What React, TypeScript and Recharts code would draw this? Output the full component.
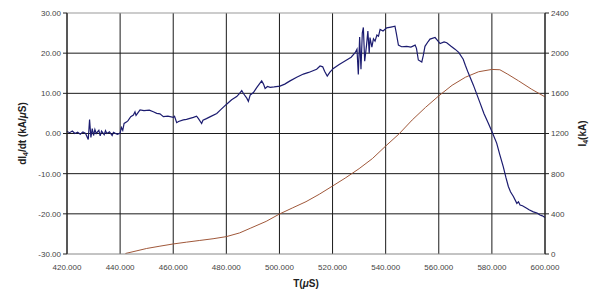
import React from "react";
import { LineChart, Line, XAxis, YAxis, CartesianGrid, Label, ReferenceLine } from "recharts";

const xTicks = [420, 440, 460, 480, 500, 520, 540, 560, 580, 600];
const leftTicks = [-30, -20, -10, 0, 10, 20, 30];
const rightTicks = [0, 400, 800, 1200, 1600, 2000, 2400];

const dIdtT = [
  420, 421, 422, 423, 424, 425, 426, 427, 428, 428.5, 429, 429.5, 430, 430.5, 431, 432, 432.5, 433, 434, 434.5,
  435, 436, 437, 437.5, 438, 439, 440, 440.5, 441, 441.5, 442.5, 443, 444, 445, 445.6, 446, 447.5, 449, 451, 452.5,
  453.8, 455, 456.3, 458, 460, 460.5, 461.3, 462, 463.8, 465, 467.6, 468.8, 469.5, 470.7, 471.2, 472.5, 474, 476.4,
  478, 480.1, 482, 483.9, 485, 485.8, 486.5, 487.7, 488.3, 489, 490.2, 491.5, 493.3, 494, 494.6, 495.5, 496.5, 498,
  500.2, 502, 504, 506.5, 509, 511, 514, 515.3, 516.3, 517, 518, 519, 520.3, 522.5, 525.3, 527, 528.5, 529.2, 529.7,
  530.2, 530.7, 531.2, 531.6, 532.1, 532.8, 533.3, 533.8, 534.1, 534.8, 535.4, 536, 536.7, 537.3, 537.9, 539, 540.4,
  542, 543.5, 544, 544.8, 546, 547.9, 549.5, 551.1, 551.6, 552.3, 553.6, 554.2, 554.8, 556, 556.7, 558.6, 559.5,
  560.5, 562, 563, 564.5, 566.1, 567.5, 569.2, 570, 571.1, 573, 575.6, 577, 578.7, 580, 581.8, 583, 584.3, 585.3,
  586.2, 587, 588.1, 589.4, 590, 590.6, 591.5, 593.1, 594, 595.6, 597, 598.1, 599, 600,
];
const dIdtV = [
  0.5, 0.2, 0.6, 0.0, 0.3, -0.2, 0.4, 0.0, -1.5, 3.5, -1.0, 1.2, -0.5, 1.0, 0.0, 0.8, -0.6, 0.6, -0.3, 0.7,
  0.0, 0.4, -0.5, 0.3, 0.1, -0.2, 0.1, 1.5, 0.8, 2.5, 2.9, 3.2, 4.2, 4.6, 5.4, 4.5, 5.9, 5.7, 5.8, 5.4,
  5.0, 4.9, 4.2, 4.3, 4.0, 4.3, 2.7, 3.0, 3.4, 3.5, 4.0, 4.3, 3.7, 2.5, 3.3, 3.7, 4.2, 5.0,
  6.0, 7.3, 8.4, 9.2, 10.0, 10.7, 9.9, 8.8, 8.0, 9.6, 10.2, 11.5, 13.1, 12.3, 11.2, 11.7, 11.5, 11.6,
  11.8, 12.3, 13.1, 14.0, 14.8, 15.2, 16.0, 16.8, 16.6, 15.5, 14.3, 15.3, 16.2, 17.2, 18.3, 19.0, 20.1, 21.0, 14.7,
  24.0, 16.0, 25.0, 26.4, 18.0, 22.0, 25.5, 20.0, 23.9, 21.5, 23.6, 23.0, 24.5, 24.2, 25.9, 25.5, 26.3,
  26.5, 26.7, 25.0, 22.0, 21.6, 21.7, 21.5, 22.0, 21.2, 18.3, 17.8, 19.5, 21.7, 22.9, 23.5, 23.9, 23.2,
  22.4, 22.8, 22.6, 21.8, 21.0, 20.2, 18.5, 17.0, 15.1, 12.1, 7.5, 5.0, 2.5, 0.5, -2.4, -5.3, -8.3, -11.0,
  -13.2, -14.5, -15.7, -17.4, -17.0, -17.8, -18.0, -18.6, -19.0, -19.5, -19.8, -20.3, -20.5, -20.9,
];

const currentT = [
  442, 446, 450, 455, 460, 465, 470, 475, 480, 485, 489, 495, 500, 505, 510, 515, 520, 525, 530, 535, 540, 545,
  550, 555, 560, 565, 570, 575, 580, 583, 586, 590, 595, 600,
];
const currentV = [
  5, 30, 55, 78, 100, 118, 135, 152, 173, 210, 256, 325, 398, 460, 521, 595, 677, 760, 850, 950, 1075, 1195,
  1335, 1460, 1575, 1680, 1760, 1815, 1838, 1835, 1790, 1725, 1640, 1565,
];

const dIdtData = dIdtT.map((t, i) => ({ t, v: dIdtV[i] }));
const currentData = currentT.map((t, i) => ({ t, c: currentV[i] }));
const innerGridValues = leftTicks.filter((v, i) => i > 0 && i < leftTicks.length - 1);

const tickStyle = { fontSize: 8, fill: "#444", fontFamily: "Arial, 'Liberation Sans', sans-serif" };
const labelFont = "Arial, 'Liberation Sans', sans-serif";

export default function App() {
  return (
    <div style={{ position: "absolute", left: 0, top: 0, background: "#fff" }}>
      <LineChart width={595} height={294} margin={{ top: 13, right: 0, left: 0, bottom: 0 }}>
        <CartesianGrid
          yAxisId="left"
          stroke="#1a1a1a"
          strokeWidth={1}
          verticalValues={xTicks}
          horizontalValues={innerGridValues}
        />
        <ReferenceLine yAxisId="left" y={30} stroke="#999" strokeWidth={1} />
        <XAxis
          dataKey="t"
          type="number"
          domain={[420, 600]}
          ticks={xTicks}
          interval={0}
          allowDuplicatedCategory={false}
          tickFormatter={(v: number) => v.toFixed(3)}
          tick={tickStyle}
          tickLine={false}
          axisLine={{ stroke: "#888" }}
          height={40}
          tickMargin={4}
        >
          <Label
            content={(props: any) => {
              const vb = props.viewBox || {};
              return (
                <text
                  x={vb.x + vb.width / 2}
                  y={vb.y + 33}
                  textAnchor="middle"
                  fontSize={10}
                  fontWeight="bold"
                  fontFamily={labelFont}
                  fill="#222"
                >
                  T(<tspan fontStyle="italic">μ</tspan>S)
                </text>
              );
            }}
          />
        </XAxis>
        <YAxis
          yAxisId="left"
          domain={[-30, 30]}
          ticks={leftTicks}
          interval={0}
          tickFormatter={(v: number) => v.toFixed(2)}
          tick={tickStyle}
          tickSize={4}
          tickLine={{ stroke: "#222" }}
          axisLine={{ stroke: "#222" }}
          width={67}
          tickMargin={2}
        >
          <Label
            content={(props: any) => {
              const vb = props.viewBox || {};
              const cx = 23;
              const cy = vb.y + vb.height / 2;
              return (
                <text
                  x={cx}
                  y={cy}
                  transform={`rotate(-90 ${cx} ${cy})`}
                  textAnchor="middle"
                  dominantBaseline="middle"
                  fontSize={10}
                  fontWeight="bold"
                  fontFamily={labelFont}
                  fill="#222"
                >
                  dI<tspan fontSize={7} dy={3}>4</tspan>
                  <tspan dy={-3}>/dt (kA/</tspan>
                  <tspan fontStyle="italic">μ</tspan>S)
                </text>
              );
            }}
          />
        </YAxis>
        <YAxis
          yAxisId="right"
          orientation="right"
          domain={[0, 2400]}
          ticks={rightTicks}
          interval={0}
          tick={tickStyle}
          tickSize={4}
          tickLine={{ stroke: "#222" }}
          axisLine={{ stroke: "#222" }}
          width={50}
          tickMargin={2}
        >
          <Label
            content={(props: any) => {
              const vb = props.viewBox || {};
              const cx = 583;
              const cy = vb.y + vb.height / 2;
              return (
                <text
                  x={cx}
                  y={cy}
                  transform={`rotate(-90 ${cx} ${cy})`}
                  textAnchor="middle"
                  dominantBaseline="middle"
                  fontSize={10}
                  fontWeight="bold"
                  fontFamily={labelFont}
                  fill="#222"
                >
                  I<tspan fontSize={7} dy={3}>4</tspan>
                  <tspan dy={-3}>(kA)</tspan>
                </text>
              );
            }}
          />
        </YAxis>
        <Line
          yAxisId="right"
          data={currentData}
          dataKey="c"
          type="linear"
          stroke="#a0583a"
          strokeWidth={1}
          dot={false}
          isAnimationActive={false}
        />
        <Line
          yAxisId="left"
          data={dIdtData}
          dataKey="v"
          type="linear"
          stroke="#1c1c70"
          strokeWidth={1.2}
          dot={false}
          isAnimationActive={false}
        />
      </LineChart>
    </div>
  );
}
